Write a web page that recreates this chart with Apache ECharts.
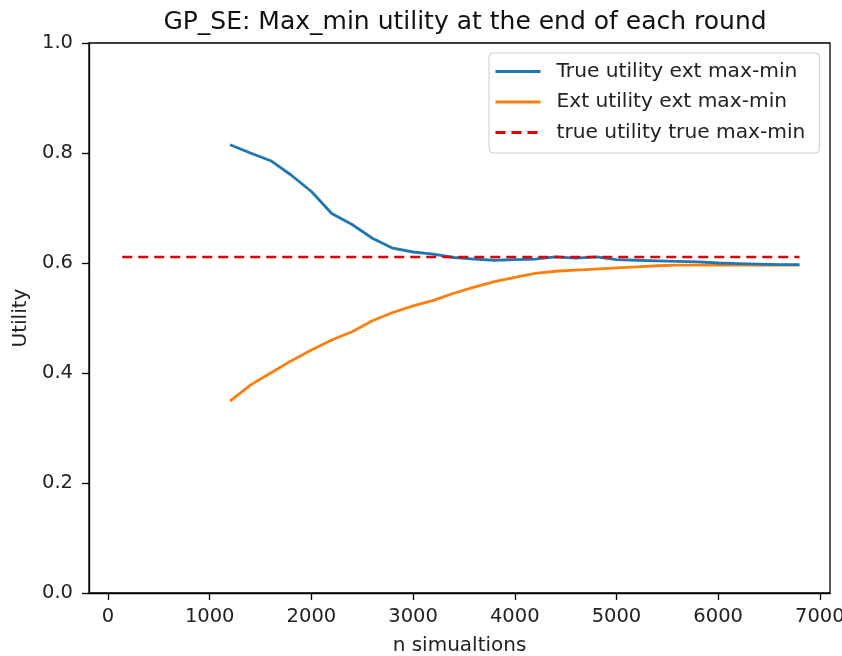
<!DOCTYPE html>
<html>
<head>
<meta charset="utf-8">
<script src="https://cdn.jsdelivr.net/npm/echarts@6/dist/echarts.min.js"></script>
<style>html,body{margin:0;padding:0;background:#fff}#c{width:842px;height:656px}</style>
</head>
<body>
<div id="c"></div>
<script>
const nSims = [1200,1400,1600,1800,2000,2200,2400,2600,2800,3000,3200,3400,3600,3800,4000,4200,4400,4600,4800,5000,5200,5400,5600,5800,6000,6200,6400,6600,6800];
const trueUtilExt = [0.815,0.800,0.786,0.760,0.730,0.690,0.670,0.645,0.627,0.620,0.616,0.610,0.607,0.605,0.606,0.607,0.611,0.609,0.611,0.606,0.605,0.604,0.603,0.602,0.600,0.599,0.598,0.597,0.597];
const extUtilExt = [0.349,0.378,0.400,0.422,0.442,0.460,0.475,0.495,0.510,0.522,0.532,0.545,0.556,0.566,0.574,0.581,0.585,0.587,0.589,0.591,0.593,0.595,0.596,0.596,0.596,0.596,0.596,0.596,0.596];
const trueMaxMinX = [140, 6800];
const trueMaxMinY = [0.611, 0.611];
const xTicks = [0,1000,2000,3000,4000,5000,6000,7000];
const seriesNames = ['True utility ext max-min','Ext utility ext max-min','true utility true max-min'];

const FONT = 'DejaVu Sans';
const chart = echarts.init(document.getElementById('c'), null, {renderer:'canvas'});
chart.setOption({
  animation:false,
  title:{text:'GP_SE: Max_min utility at the end of each round', left:460, textAlign:'center', top:5,
    textStyle:{fontFamily:FONT,fontSize:25,fontWeight:'normal',color:'#111'}},
  grid:{left:89,right:12,top:43,bottom:63,show:true,borderColor:'#000',borderWidth:1.3,outerBoundsMode:'none',containLabel:false},
  legend:{
    orient:'vertical', left:489, top:53,
    padding:[7.5,14,9.5,5], itemGap:8.5, itemWidth:45, itemHeight:14,
    borderColor:'#cccccc', borderWidth:1, borderRadius:4, backgroundColor:'rgba(255,255,255,0.8)',
    itemStyle:{opacity:0},
    lineStyle:{width:3},
    textStyle:{fontFamily:FONT,fontSize:20.2,color:'#222',padding:[0,0,0,11],lineHeight:22},
    data:seriesNames
  },
  xAxis:{
    type:'value', min:-187, max:7100,
    name:'n simualtions', nameLocation:'middle', nameGap:43,
    nameTextStyle:{fontFamily:FONT,fontSize:20,color:'#222'},
    axisLine:{show:true,onZero:false,lineStyle:{color:'#000',width:1.3}},
    axisTick:{show:true,length:7,lineStyle:{color:'#000',width:1.3},customValues:xTicks},
    axisLabel:{fontFamily:FONT,fontSize:19.5,color:'#222',margin:14,customValues:xTicks,formatter:v=>String(v)},
    splitLine:{show:false}
  },
  yAxis:{
    type:'value', min:0, max:1, interval:0.2,
    name:'Utility', nameLocation:'middle', nameGap:57,
    nameTextStyle:{fontFamily:FONT,fontSize:20,color:'#222'},
    axisLine:{show:true,onZero:false,lineStyle:{color:'#000',width:1.3}},
    axisTick:{show:true,length:7,lineStyle:{color:'#000',width:1.3}},
    axisLabel:{fontFamily:FONT,fontSize:19.5,color:'#222',margin:16,formatter:v=>v.toFixed(1)},
    splitLine:{show:false}
  },
  series:[
    {name:seriesNames[0],type:'line',symbol:'none',data:nSims.map((x,i)=>[x,trueUtilExt[i]]),
      lineStyle:{color:'#1f77b4',width:2.8},itemStyle:{color:'#1f77b4'},z:3},
    {name:seriesNames[1],type:'line',symbol:'none',data:nSims.map((x,i)=>[x,extUtilExt[i]]),
      lineStyle:{color:'#ff7f0e',width:2.8},itemStyle:{color:'#ff7f0e'},z:2},
    {name:seriesNames[2],type:'line',symbol:'none',data:trueMaxMinX.map((x,i)=>[x,trueMaxMinY[i]]),
      lineStyle:{color:'#e00000',width:2.6,type:[10,6]},itemStyle:{color:'#e00000'},z:4}
  ]
});
</script>
</body>
</html>
